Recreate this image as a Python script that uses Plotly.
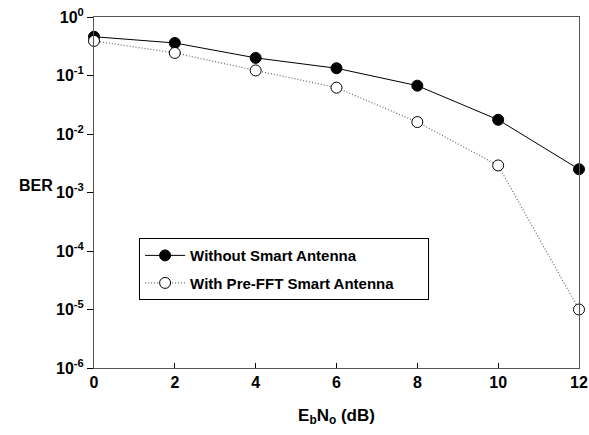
import plotly.graph_objects as go

ebno = [0, 2, 4, 6, 8, 10, 12]
ber_without = [0.46, 0.36, 0.20, 0.133, 0.067, 0.0175, 0.0025]
ber_with = [0.39, 0.243, 0.122, 0.062, 0.016, 0.0029, 1.0e-5]
series_names = ["Without Smart Antenna", "With Pre-FFT Smart Antenna"]
y_tick_vals = [1, 1e-1, 1e-2, 1e-3, 1e-4, 1e-5, 1e-6]
y_tick_text = ["10<sup>0</sup>", "10<sup>-1</sup>", "10<sup>-2</sup>", "10<sup>-3</sup>",
               "10<sup>-4</sup>", "10<sup>-5</sup>", "10<sup>-6</sup>"]
x_tick_vals = [0, 2, 4, 6, 8, 10, 12]

FONT = "Liberation Sans, Arial, sans-serif"
PAD = "&nbsp;" * 7

fig = go.Figure()
fig.add_trace(go.Scatter(
    x=ebno, y=ber_without, name="<b>" + series_names[0] + "</b>",
    mode="lines+markers", legendgroup="a",
    line=dict(color="black", width=1),
    marker=dict(symbol="circle", size=11, color="black", line=dict(color="black", width=1)),
    cliponaxis=False,
))
fig.add_trace(go.Scatter(
    x=ebno, y=ber_with, name="<b>" + series_names[1] + "</b>" + PAD,
    mode="lines+markers", legendgroup="b",
    line=dict(color="#666666", width=1.2, dash="1px,2px"),
    marker=dict(symbol="circle", size=11, color="white", line=dict(color="black", width=1)),
    cliponaxis=False,
))

fig.update_layout(
    width=589, height=435,
    margin=dict(l=94, r=10, t=17, b=67, autoexpand=False),
    paper_bgcolor="white", plot_bgcolor="white",
    font=dict(family=FONT, size=14, color="black"),
    showlegend=True,
    legend=dict(
        x=0.093, y=0.37, xanchor="left", yanchor="top",
        bordercolor="black", borderwidth=1, bgcolor="white",
        font=dict(family=FONT, size=15, color="black"),
        traceorder="grouped", tracegroupgap=5, itemwidth=40,
    ),
    xaxis=dict(
        range=[0, 12], tickvals=x_tick_vals,
        ticktext=["<b>%d</b>" % v for v in x_tick_vals],
        ticks="inside", ticklen=5, tickcolor="black",
        showline=True, linecolor="#555555", linewidth=1, mirror=True,
        showgrid=False, zeroline=False, automargin=False,
        tickfont=dict(family=FONT, size=16, color="black"),
        title=dict(text="<b>E<sub>b</sub>N<sub>o</sub> (dB)</b>",
                   font=dict(family=FONT, size=17, color="black"), standoff=18),
    ),
    yaxis=dict(
        type="log", range=[-6, 0],
        tickvals=y_tick_vals, ticktext=["<b>" + t + "</b>" for t in y_tick_text],
        ticks="outside", ticklen=6, tickcolor="black",
        showline=True, linecolor="#555555", linewidth=1, mirror=True,
        showgrid=False, zeroline=False, automargin=False,
        tickfont=dict(family=FONT, size=16, color="black"),
    ),
)

fig.add_annotation(
    text="<b>BER</b>", xref="paper", yref="paper",
    x=-0.08, y=0.52, xanchor="right", yanchor="middle",
    showarrow=False, font=dict(family=FONT, size=16, color="black"),
)

fig.write_html("out.html")
